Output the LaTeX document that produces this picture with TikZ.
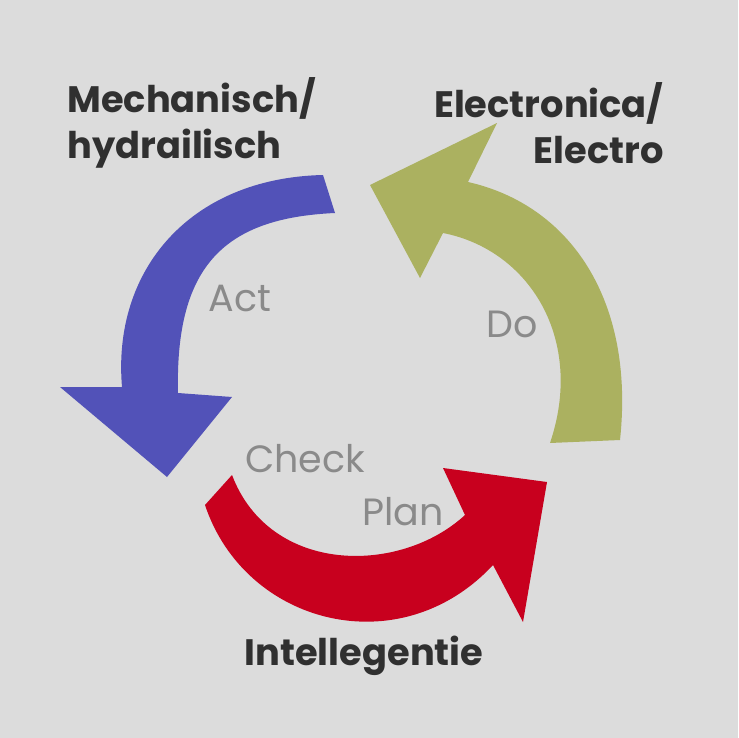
\documentclass[tikz,border=0pt]{standalone}
\usepackage{fontspec}
\usepackage{tikz}
\newfontfamily\titlefont{Poppins}
\definecolor{bg}{RGB}{220,220,220}
\definecolor{actblue}{RGB}{82,82,184}
\definecolor{doolive}{RGB}{171,177,96}
\definecolor{planred}{RGB}{200,0,30}
\definecolor{lblgrey}{RGB}{138,138,138}
\definecolor{ttlgrey}{RGB}{48,48,48}

\begin{document}
\begin{tikzpicture}[x=0.5pt,y=-0.5pt,
title/.style={text=ttlgrey,font=\titlefont\bfseries\fontsize{18.4}{23}\selectfont,inner sep=0pt},
lbl/.style={text=lblgrey,font=\titlefont\fontsize{19}{22}\selectfont,inner sep=0pt}]
\fill[bg] (0,0) rectangle (738,738);
\fill[actblue] (323,175) -- (335,213) .. controls (225,218) and (175,265) .. (178,393)
-- (232,397) -- (167,477) -- (60,387) -- (122,387)
.. controls (112,270) and (190,178) .. (323,175) -- cycle;
\fill[doolive] (370,185) -- (497,123) -- (468,182)
.. controls (570,205) and (635,300) .. (620,440) -- (550,443)
.. controls (585,340) and (530,250) .. (443,233) -- (420,278) -- cycle;
\fill[planred] (205,505) .. controls (245,625) and (400,665) .. (493,565)
-- (523,622) -- (547,482) -- (443,468) -- (465,515)
.. controls (400,575) and (270,575) .. (232,475) -- cycle;
\node[title,anchor=north west,align=left] (mech) at (67,77) {Mechanisch/\\hydrailisch};
\node[title,anchor=north east,align=right] (elec) at (664,82) {Electronica/\\Electro};
\node[title] (intel) at (364,656) {Intellegentie};
\node[lbl] (act) at (240,299) {Act};
\node[lbl] (do) at (512,324) {Do};
\node[lbl] (check) at (305,459) {Check};
\node[lbl] (plan) at (403,512) {Plan};
\end{tikzpicture}
\end{document}
